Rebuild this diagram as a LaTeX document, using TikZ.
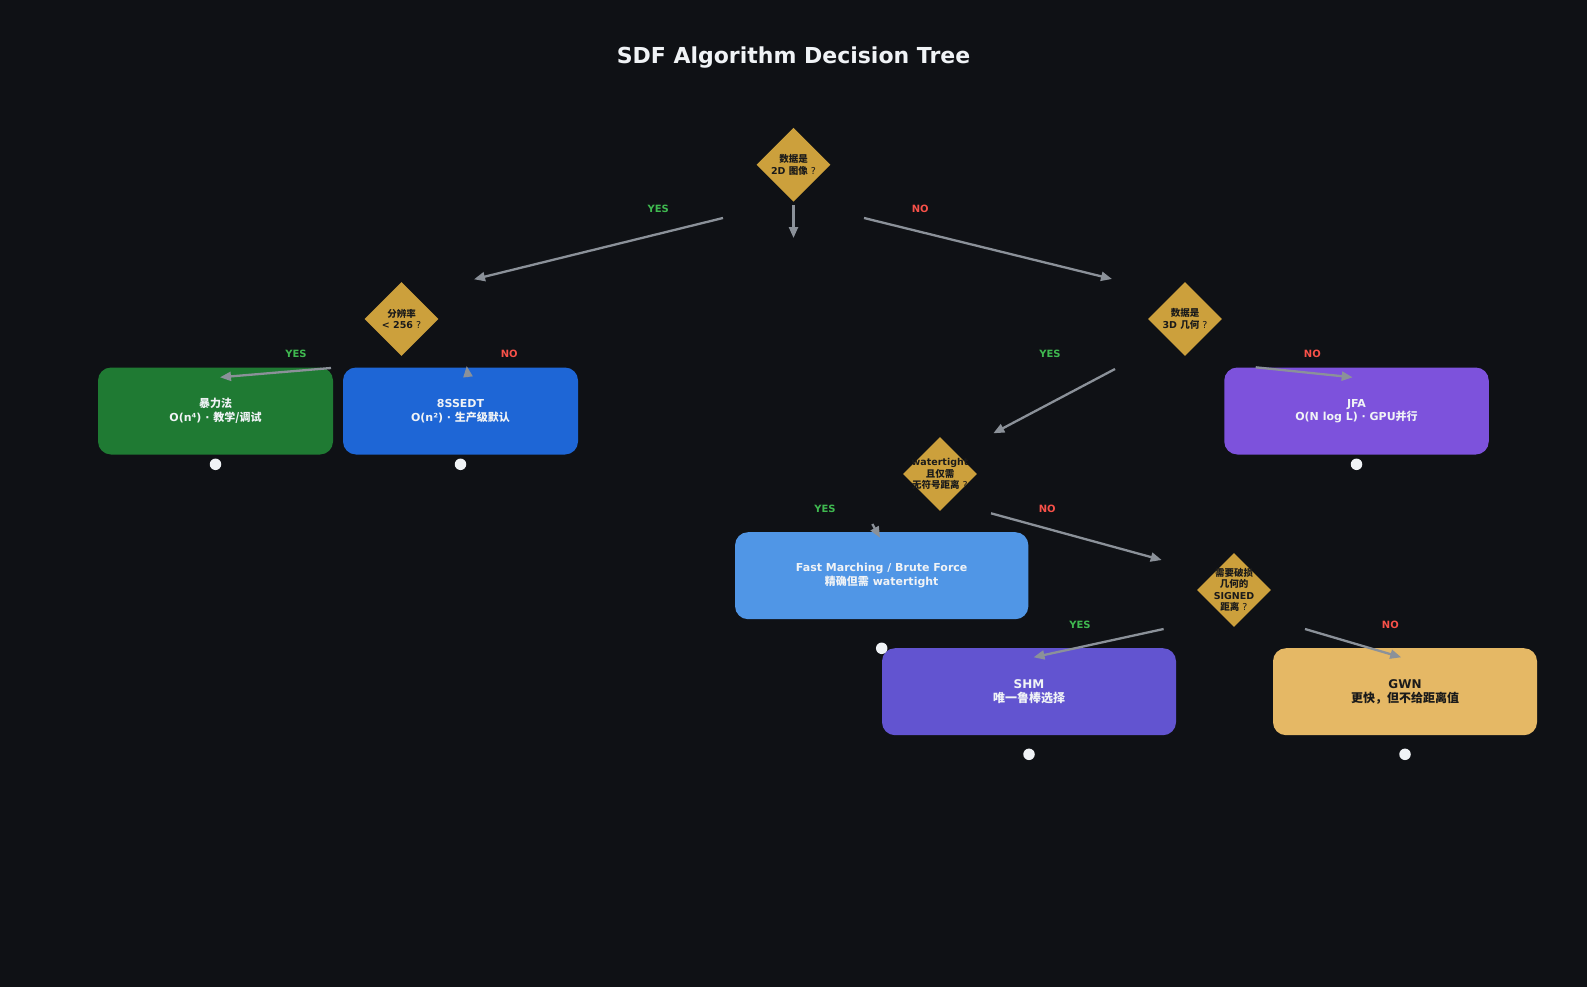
\documentclass[tikz,border=0pt]{standalone}
\usepackage{fontspec}
\setmainfont{DejaVu Sans}
\newfontfamily\zhfont{Noto Sans CJK SC}
\newcommand{\zh}[1]{{\zhfont #1}}
\newcommand{\qm}{\hspace{3pt}{\mdseries ?}}
\usepackage{tikz}
\usetikzlibrary{shapes.geometric, arrows.meta, positioning}

\definecolor{bgdark}{RGB}{15,17,21}
\definecolor{gold}{RGB}{204,160,60}
\definecolor{flowgray}{RGB}{139,145,153}
\definecolor{yesgreen}{RGB}{63,185,80}
\definecolor{nored}{RGB}{248,81,73}
\definecolor{boxgreen}{RGB}{31,122,51}
\definecolor{boxblue}{RGB}{30,102,214}
\definecolor{boxpurple}{RGB}{125,82,220}
\definecolor{boxsky}{RGB}{80,150,230}
\definecolor{boxindigo}{RGB}{98,84,208}
\definecolor{boxsand}{RGB}{229,184,101}
\definecolor{inkdark}{RGB}{26,26,26}
\definecolor{inklight}{RGB}{240,243,246}

\begin{document}
\begin{tikzpicture}[x=1pt,y=-1pt,>={Triangle[length=11pt,width=9pt]},
  decision/.style={diamond, fill=gold, minimum width=74pt, minimum height=74pt, inner sep=0pt},
  qtext/.style={align=center, text=inkdark, font=\bfseries\fontsize{9.5}{11.4}\selectfont},
  outcome/.style={rectangle, rounded corners=13pt, minimum height=87pt, align=center,
    text=inklight, font=\bfseries\fontsize{11}{13.6}\selectfont},
  bigout/.style={outcome, font=\bfseries\fontsize{12}{14.4}\selectfont},
  dot/.style={circle, fill=inklight, minimum size=11.5pt, inner sep=0pt},
  yes/.style={text=yesgreen, font=\bfseries\fontsize{10}{12}\selectfont},
  no/.style={text=nored, font=\bfseries\fontsize{10}{12}\selectfont},
  flow/.style={->, color=flowgray, line width=2.3pt}]

  \fill[bgdark] (0,0) rectangle (1587,987);
  \useasboundingbox (0,0) rectangle (1587,987);

  \node[text=inklight, font=\bfseries\fontsize{22}{26}\selectfont] (title) at (793.5,58) {SDF Algorithm Decision Tree};

  % questions
  \node[decision, label={[qtext]center:{\zh{数据是}\\2D \zh{图像}\qm}}] (d1) at (793.5,164.7) {};
  \node[decision, label={[qtext]center:{\zh{分辨率}\\< 256\qm}}] (d2) at (401.5,319) {};
  \node[decision, label={[qtext]center:{\zh{数据是}\\3D \zh{几何}\qm}}] (d3) at (1185,319) {};
  \node[decision, label={[qtext]center:{watertight\\\zh{且仅需}\\\zh{无符号距离}\qm}}] (d4) at (940,474) {};
  \node[decision, label={[qtext]center:{\zh{需要破损}\\\zh{几何的}\\SIGNED\\\zh{距离}\qm}}] (d5) at (1234,590) {};

  % answers
  \node[outcome, fill=boxgreen, minimum width=235pt] (brute) at (215.5,411) {\zh{暴力法}\\O(n⁴) · \zh{教学/调试}};
  \node[outcome, fill=boxblue, minimum width=235pt] (ssedt) at (460.5,411) {8SSEDT\\O(n²) · \zh{生产级默认}};
  \node[outcome, fill=boxpurple, minimum width=264.5pt] (jfa) at (1356.5,411) {JFA\\O(N log L) · GPU\zh{并行}};
  \node[outcome, fill=boxsky, minimum width=293.3pt] (fm) at (881.7,575.7) {Fast Marching / Brute Force\\\zh{精确但需} watertight};
  \node[bigout, fill=boxindigo, minimum width=294pt] (shm) at (1029,691.7) {SHM\\\zh{唯一鲁棒选择}};
  \node[bigout, fill=boxsand, minimum width=264pt, text=inkdark] (gwn) at (1405,691.7) {GWN\\\zh{更快，但不给距离值}};

  \node[dot, node distance=53.3pt] (brutedot) [below of=brute] {};
  \node[dot, node distance=53.3pt] (ssedtdot) [below of=ssedt] {};
  \node[dot, node distance=53.3pt] (jfadot) [below of=jfa] {};
  \node[dot, node distance=72.6pt] (fmdot) [below of=fm] {};
  \node[dot, node distance=62.6pt] (shmdot) [below of=shm] {};
  \node[dot, node distance=62.6pt] (gwndot) [below of=gwn] {};

  % branch labels
  \node[yes] (d1yes) at (658.3,209) {YES};
  \node[no]  (d1no)  at (920.3,209) {NO};
  \node[yes] (d2yes) at (296,354) {YES};
  \node[no]  (d2no)  at (509.3,354) {NO};
  \node[yes] (d3yes) at (1050,354) {YES};
  \node[no]  (d3no)  at (1312.3,354) {NO};
  \node[yes] (d4yes) at (825,509) {YES};
  \node[no]  (d4no)  at (1047.3,509) {NO};
  \node[yes] (d5yes) at (1080,625) {YES};
  \node[no]  (d5no)  at (1390.4,625) {NO};

  % arrow ends
  \coordinate (d1out) at (793.5,205);      \coordinate (d1stub) at (793.5,238);
  \coordinate (d1yesout) at (723,218);     \coordinate (d2in) at (474,279.3);
  \coordinate (d1noout) at (864,218);      \coordinate (d3in) at (1112,279);
  \coordinate (d2yesout) at (331,368);     \coordinate (brutein) at (220,377.3);
  \coordinate (d2noout) at (468,377);      \coordinate (ssedtin) at (466.7,366);
  \coordinate (d3yesout) at (1115,369);    \coordinate (d4in) at (993.3,433.3);
  \coordinate (d3noout) at (1255.7,367.3); \coordinate (jfain) at (1352.7,377.3);
  \coordinate (d4yesout) at (872.3,524);   \coordinate (fmin) at (880,537.7);
  \coordinate (d4noout) at (991,513.3);    \coordinate (d5in) at (1161.7,560);
  \coordinate (d5yesout) at (1163.6,629);  \coordinate (shmin) at (1033.5,657.3);
  \coordinate (d5noout) at (1305,629);     \coordinate (gwnin) at (1401.2,657.3);

  \path[flow]
        (d1out) edge (d1stub)
        (d1yesout) edge (d2in)
        (d1noout) edge (d3in)
        (d2yesout) edge (brutein)
        (d2noout) edge (ssedtin)
        (d3yesout) edge (d4in)
        (d3noout) edge (jfain)
        (d4yesout) edge (fmin)
        (d4noout) edge (d5in)
        (d5yesout) edge (shmin)
        (d5noout) edge (gwnin);
\end{tikzpicture}
\end{document}
